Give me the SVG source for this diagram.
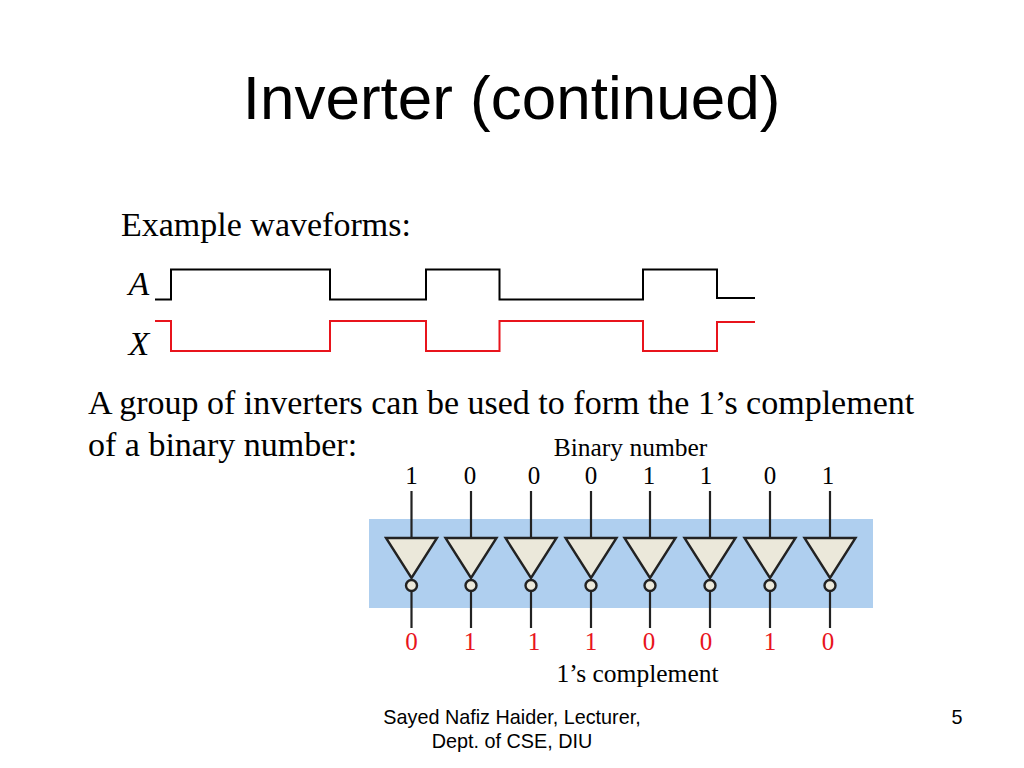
<svg xmlns="http://www.w3.org/2000/svg" width="1024" height="768" viewBox="0 0 1024 768">
<style>
.s{font-family:"Liberation Serif",serif;fill:#000}
.a{font-family:"Liberation Sans",sans-serif;fill:#000}
.b{font-size:25px;text-anchor:middle}
.r{fill:#e8141c}
.w{fill:none;stroke-width:2}
.l{stroke:#222;stroke-width:2.200;fill:none}
.t{fill:#ebe8da;stroke:#222;stroke-width:2.400}
</style>
<defs><g id="inv">
<line class="l" x1="0" y1="491" x2="0" y2="538"/>
<path class="t" d="M-25.500 538H25.500L0 578Z"/>
<circle class="t" cx="0" cy="585.500" r="5.500"/>
<line class="l" x1="0" y1="591" x2="0" y2="628"/>
</g></defs>
<rect width="1024" height="768" fill="#fff"/>
<text class="a" x="511.500" y="119" font-size="62" text-anchor="middle">Inverter (continued)</text>
<text class="s" x="121" y="235.500" font-size="34">Example waveforms:</text>
<text class="s" x="128.500" y="295" font-size="34" font-style="italic">A</text>
<text class="s" x="128.500" y="354.500" font-size="34" font-style="italic">X</text>
<g id="connectors">
<path class="w" stroke="#000" d="M155 299.500H171V269.500H330V299.500H426V269.500H499.500V299.500H643V269.500H717V298H755"/>
<path class="w" stroke="#e8141c" d="M155 321H171V351H330V321H426V351H499.500V321H643V351H717V322H755"/>
</g>
<text class="s" x="88" y="413.500" font-size="34">A group of inverters can be used to form the 1’s complement</text>
<text class="s" x="88" y="455.500" font-size="34">of a binary number:</text>
<rect x="369" y="519" width="504" height="89" fill="#afcfef"/>
<text class="s" x="630.500" y="456" font-size="25.500" text-anchor="middle">Binary number</text>
<g id="n1"><use href="#inv" x="411.500"/><text class="s b" x="411.500" y="484">1</text><text class="s b r" x="411.500" y="650">0</text></g>
<g id="n2"><use href="#inv" x="471"/><text class="s b" x="470" y="484">0</text><text class="s b r" x="470" y="650">1</text></g>
<g id="n3"><use href="#inv" x="531"/><text class="s b" x="534" y="484">0</text><text class="s b r" x="534" y="650">1</text></g>
<g id="n4"><use href="#inv" x="591"/><text class="s b" x="591" y="484">0</text><text class="s b r" x="591" y="650">1</text></g>
<g id="n5"><use href="#inv" x="650"/><text class="s b" x="649" y="484">1</text><text class="s b r" x="649" y="650">0</text></g>
<g id="n6"><use href="#inv" x="710"/><text class="s b" x="706" y="484">1</text><text class="s b r" x="706" y="650">0</text></g>
<g id="n7"><use href="#inv" x="770"/><text class="s b" x="770" y="484">0</text><text class="s b r" x="770" y="650">1</text></g>
<g id="n8"><use href="#inv" x="830"/><text class="s b" x="828" y="484">1</text><text class="s b r" x="828" y="650">0</text></g>
<text class="s" x="637.500" y="682" font-size="25.500" text-anchor="middle">1’s complement</text>
<text class="a" x="512" y="724" font-size="19.800" text-anchor="middle">Sayed Nafiz Haider, Lecturer,</text>
<text class="a" x="512" y="748" font-size="19.800" text-anchor="middle">Dept. of CSE, DIU</text>
<text class="a" x="957" y="724" font-size="19.800" text-anchor="middle">5</text>
</svg>
